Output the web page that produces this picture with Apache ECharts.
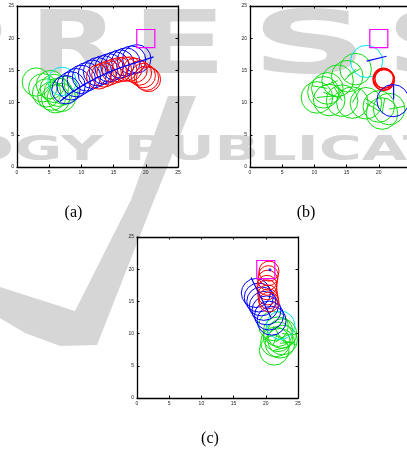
<!DOCTYPE html>
<html>
<head>
<meta charset="utf-8">
<script src="https://cdn.jsdelivr.net/npm/echarts@6/dist/echarts.min.js"></script>
<style>
html,body{margin:0;padding:0;background:#fff;}
#chart{width:407px;height:454px;}
</style>
</head>
<body>
<div id="chart"></div>
<script>
// ---------- data (x, y, radius[, heading deg]) ----------
const tickValues = [0, 5, 10, 15, 20, 25];
const targetSquare = [[20.0, 19.95, 1.4]];

// (a)
const aGreen = [[3.0,13.2,2.2],[4.0,12.3,2.2],[4.6,11.5,2.2],[5.2,12.8,2.2],[5.4,11.0,2.2],
                [6.0,10.6,2.2],[6.4,11.6,2.2],[6.9,10.8,2.2],[7.3,11.9,2.2],[5.8,12.2,2.2]];
const aCyan = [[7.0,13.3,2.2]];
const aBlue = [[7.6,12.0,2.2],[8.4,12.6,2.2],[9.2,13.1,2.2],[10.0,13.6,2.2],[10.8,14.0,2.2],
               [11.7,14.4,2.2],[12.5,14.8,2.2],[13.4,15.1,2.2],[14.3,15.4,2.2],[15.2,15.7,2.2],
               [16.0,16.0,2.2],[16.9,16.3,2.2],[17.8,16.6,2.2],[18.6,16.8,2.2]];
const aRed = [[12.7,14.0,1.9],[13.5,14.3,1.9],[14.3,14.6,1.9],[15.1,14.9,1.9],[15.9,15.1,1.9],
              [16.7,15.2,1.9],[17.5,15.2,1.9],[18.3,15.0,1.9],[19.0,14.6,1.9],[19.6,14.2,1.9],
              [20.1,13.8,1.9],[20.4,13.6,1.9]];
const aPath = [[6.7,10.2],[8.5,11.6],[10.4,12.8],[12.5,13.9],[14.5,14.8],[16.3,15.5],
               [18.1,16.1],[19.7,16.6],[21.2,17.1]];

// (b)
const bGreen = [[10.4,10.8,2.45,5],[11.4,11.6,2.45,-20],[12.3,10.4,2.45,40],[12.0,12.2,2.45,170],
                [13.6,13.4,2.45,200],[15.1,14.1,2.45,30],[16.4,15.2,2.45,225],[14.3,10.3,2.45,120],
                [15.9,10.0,2.45,60],[18.0,9.9,2.45,-30],[20.0,9.4,2.45,150],[20.5,8.3,2.45,80],
                [21.6,9.0,2.45,10]];
const bCyan = [[18.1,16.4,2.5]];
const bRed = [[20.7,13.8,1.55],[20.8,13.5,1.6],[20.9,13.7,1.5],[20.75,13.6,1.65]];
const bBlue = [[22.2,10.3,2.5]];
const bHeadings = [[18.1,16.45,21.2,17.2],[22.3,10.5,22.3,12.7]];

// (c)
const cRed = [[20.5,19.7,1.55],[20.4,19.0,1.55],[20.3,18.3,1.55],[20.2,17.5,1.55],
              [20.2,16.8,1.55],[20.3,16.0,1.55],[20.4,15.4,1.55],[20.5,14.9,1.55]];
const cBlue = [[18.45,16.3,2.25],[18.9,15.6,2.25],[19.3,15.0,2.25],[19.7,14.3,2.25],
               [20.1,13.6,2.25],[20.5,12.8,2.25],[20.9,12.0,2.25]];
const cCyan = [[22.3,11.3,2.2]];
const cGreen = [[21.2,11.2,2.3,-60],[21.9,10.3,2.3,-110],[22.5,10.0,2.3,-5],[21.9,9.5,2.3,-40],
                [22.6,9.0,2.3,-20],[21.5,8.7,2.3,30],[22.2,8.5,2.3,5],[21.3,7.4,2.3,15]];
const cMarker = [[20.65,19.9]];
const cHeadings = [[17.7,18.7,20.8,12.5]];

// ---------- helpers ----------
const GREEN='#10dd10', BLUE='#0000ff', RED='#ff0000', CYAN='#00e5ee', MAGENTA='#ff00ff';

function circles(data, color, gi, lw){
  return {type:'custom', xAxisIndex:gi*2, yAxisIndex:gi*2, data:data, clip:true, silent:true, z:3,
    renderItem:function(params, api){
      const x=api.value(0), y=api.value(1), r=api.value(2), h=api.value(3);
      const c=api.coord([x,y]);
      const rr=api.size([r,r])[0];
      const children=[{type:'circle', shape:{cx:c[0],cy:c[1],r:rr},
        style:{fill:'none',stroke:color,lineWidth:lw}}];
      if (h!==undefined && h!==null && !isNaN(h)){
        const e=api.coord([x+r*Math.cos(h*Math.PI/180), y+r*Math.sin(h*Math.PI/180)]);
        children.push({type:'line', shape:{x1:c[0],y1:c[1],x2:e[0],y2:e[1]},
          style:{stroke:color,lineWidth:lw}});
      }
      return {type:'group', children:children};
    }};
}
function segments(data, color, gi, lw){
  return {type:'custom', xAxisIndex:gi*2, yAxisIndex:gi*2, data:data, clip:true, silent:true, z:4,
    renderItem:function(params, api){
      const p=api.coord([api.value(0),api.value(1)]);
      const q=api.coord([api.value(2),api.value(3)]);
      return {type:'line', shape:{x1:p[0],y1:p[1],x2:q[0],y2:q[1]}, style:{stroke:color,lineWidth:lw}};
    }};
}
function square(gi){
  return {type:'custom', xAxisIndex:gi*2, yAxisIndex:gi*2, data:targetSquare, silent:true, z:4,
    renderItem:function(params, api){
      const x=api.value(0), y=api.value(1), h=api.value(2);
      const p=api.coord([x-h,y+h]); const q=api.coord([x+h,y-h]);
      return {type:'rect', shape:{x:p[0],y:p[1],width:q[0]-p[0],height:q[1]-p[1]},
        style:{fill:'none',stroke:MAGENTA,lineWidth:1.2}};
    }};
}
function axis(gi, pos, lab){
  return {type:'value', gridIndex:gi, position:pos, min:0, max:25, interval:5,
    axisLine:{show:true,onZero:false,lineStyle:{color:'#000',width:1.3}},
    axisTick:{show:true,inside:true,length:2.5,lineStyle:{color:'#000',width:1}},
    axisLabel:{show:lab,fontSize:5,color:'#222',margin:3,fontFamily:'Liberation Sans',
      formatter:function(v){return tickValues.indexOf(v)>=0 ? String(v) : '';}},
    splitLine:{show:false}};
}

const grids=[
  {left:17, top:6, width:161, height:161, outerBoundsMode:'none', containLabel:false},
  {left:250, top:6, width:161, height:161, outerBoundsMode:'none', containLabel:false},
  {left:137, top:237, width:161, height:161, outerBoundsMode:'none', containLabel:false}
];
const xAxes=[], yAxes=[];
for (let g=0; g<3; g++){
  xAxes.push(axis(g,'bottom',true)); xAxes.push(axis(g,'top',false));
  yAxes.push(axis(g,'left',true)); yAxes.push(axis(g,'right',false));
}

const series=[
  circles(aGreen,GREEN,0,1), circles(aCyan,CYAN,0,1), circles(aBlue,BLUE,0,1), circles(aRed,RED,0,1),
  {type:'line', xAxisIndex:0, yAxisIndex:0, data:aPath, showSymbol:false, silent:true, z:4,
   lineStyle:{color:BLUE,width:1.4}},
  square(0),
  circles(bGreen,GREEN,1,1), circles(bCyan,CYAN,1,1), circles(bRed,RED,1,1.2), circles(bBlue,BLUE,1,1),
  segments(bHeadings,BLUE,1,1.2), square(1),
  circles(cGreen,GREEN,2,1), circles(cCyan,CYAN,2,1), circles(cBlue,BLUE,2,1), circles(cRed,RED,2,1),
  segments(cHeadings,BLUE,2,1.2), square(2),
  {type:'scatter', xAxisIndex:4, yAxisIndex:4, data:cMarker, symbol:'circle', symbolSize:3, silent:true, z:5,
   itemStyle:{color:BLUE}}
];

// ---------- background watermark ----------
const WM='#d6d6d6';
const wm=[];
wm.push({type:'polygon', z:-10, silent:true,
  shape:{points:[[168,96],[196,96],[154,200],[97,345],[60,346],[25,333],[0,318],[0,287],[75,311],[131,200]]},
  style:{fill:WM}});
[['P',-90,1.5],['R',30,1.3],['E',131,1.6],['S',251,1.85],['S',384,1.85]].forEach(function(l){
  wm.push({type:'text', z:-10, silent:true, x:l[1], y:50, scaleX:l[2],
    style:{text:l[0], font:'bold 88px "DejaVu Sans"', fill:WM,
      align:'left', verticalAlign:'middle', textAlign:'left', textVerticalAlign:'middle'}});
});
wm.push({type:'text', z:-10, silent:true, x:-36, y:151, scaleX:1.78,
  style:{text:'OGY PUBLICATIONS', font:'bold 33px "DejaVu Sans"', fill:WM,
    align:'left', verticalAlign:'middle', textAlign:'left', textVerticalAlign:'middle'}});
[['(a)',73.5,212.5],['(b)',306,212.5],['(c)',210,439]].forEach(function(c){
  wm.push({type:'text', z:10, silent:true, x:c[1], y:c[2],
    style:{text:c[0], font:'16px "Liberation Serif"', fill:'#000',
      align:'center', verticalAlign:'middle', textAlign:'center', textVerticalAlign:'middle'}});
});

const chart=echarts.init(document.getElementById('chart'), null, {renderer:'canvas'});
chart.setOption({
  animation:false,
  backgroundColor:'#fff',
  grid:grids,
  xAxis:xAxes,
  yAxis:yAxes,
  graphic:{elements:wm},
  series:series
});
</script>
</body>
</html>
